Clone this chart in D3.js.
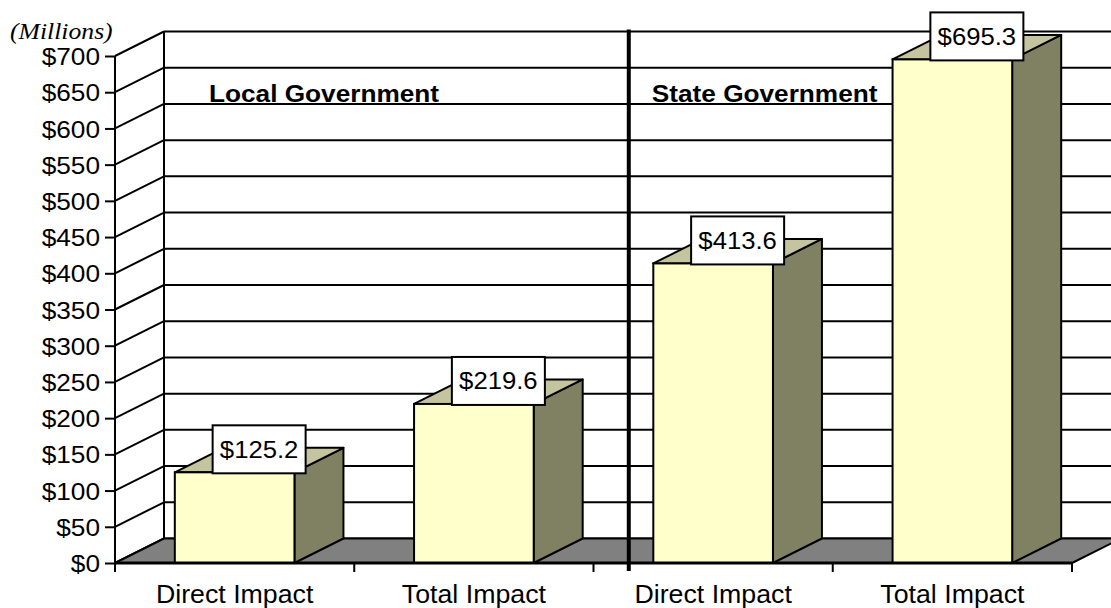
<!DOCTYPE html>
<html>
<head>
<meta charset="utf-8">
<script src="https://cdn.jsdelivr.net/npm/d3@7/dist/d3.min.js"></script>
<style>
  html, body { margin: 0; padding: 0; background: #fff; }
  svg { display: block; }
  text { fill: #000; }
</style>
</head>
<body>
<svg id="chart" width="1111" height="608"></svg>
<script>
// Fiscal impact, in millions of dollars
const categories = ["Direct Impact", "Total Impact", "Direct Impact", "Total Impact"];
const values = [125.2, 219.6, 413.6, 695.3];
const groupLabels = ["Local Government", "State Government"];
const groupStart = [0, 2];            // first category index of each group
const yTickValues = [0, 50, 100, 150, 200, 250, 300, 350, 400, 450, 500, 550, 600, 650, 700];
const unitLabel = "(Millions)";

const W = 1111, H = 608;
const sans = "'Liberation Sans', Arial, Helvetica, sans-serif";
const serif = "'Liberation Serif', 'Times New Roman', serif";
const svg = d3.select("#chart");

// plot frame (front plane) and 3-D depth offset
const plotLeft = 115, plotRight = 1072, plotBottom = 563, plotTop = 56;
const depthX = 49, depthY = -24.5;
const sx = 1.07; // horizontal text stretch

const x = d3.scaleBand().domain(d3.range(categories.length)).range([plotLeft, plotRight]).paddingInner(0).paddingOuter(0);
const y = d3.scaleLinear().domain([0, 700]).range([plotBottom, plotTop]);
const barW = x.bandwidth() * 0.5;

const stroke = "#000";
const lw = 2;

const g = svg.append("g");

// back wall gridlines
g.append("g").selectAll("line").data(yTickValues).join("line")
  .attr("x1", plotLeft + depthX).attr("x2", W + 20)
  .attr("y1", d => y(d) + depthY).attr("y2", d => y(d) + depthY)
  .attr("stroke", stroke).attr("stroke-width", lw);

// back wall left edge
g.append("line")
  .attr("x1", plotLeft + depthX).attr("x2", plotLeft + depthX)
  .attr("y1", y(700) + depthY).attr("y2", y(0) + depthY)
  .attr("stroke", stroke).attr("stroke-width", lw);

// side wall diagonals
g.append("g").selectAll("line").data(yTickValues).join("line")
  .attr("x1", plotLeft).attr("x2", plotLeft + depthX)
  .attr("y1", d => y(d)).attr("y2", d => y(d) + depthY)
  .attr("stroke", stroke).attr("stroke-width", lw);

// floor
g.append("path")
  .attr("d", `M${plotLeft},${y(0)} L${plotRight},${y(0)} L${plotRight + depthX},${y(0) + depthY} L${plotLeft + depthX},${y(0) + depthY} Z`)
  .attr("fill", "#808080").attr("stroke", stroke).attr("stroke-width", lw).attr("stroke-linejoin", "round");

// group divider
const divX = x(groupStart[1]) + depthX * 0.72;
g.append("line")
  .attr("x1", divX).attr("x2", divX)
  .attr("y1", y(700) + depthY - 2).attr("y2", y(0) + 8)
  .attr("stroke", stroke).attr("stroke-width", 4);

// group labels
groupLabels.forEach((lab, i) => {
  const gx = i === 0 ? x(groupStart[i]) + depthX + 45 : divX + 23;
  g.append("text")
    .attr("transform", `translate(${gx},${y(600) + depthY - 1.5}) scale(${sx},1)`)
    .style("font-family", sans)
    .attr("font-size", 24.5).attr("font-weight", "bold")
    .text(lab);
});

// bars
const bars = g.append("g").selectAll("g").data(values).join("g");
bars.each(function (v, i) {
  const b = d3.select(this);
  const x0 = x(i) + (x.bandwidth() - barW) / 2, x1 = x0 + barW;
  const yt = y(v), yb = y(0);
  // side face
  b.append("path")
    .attr("d", `M${x1},${yb} L${x1 + depthX},${yb + depthY} L${x1 + depthX},${yt + depthY} L${x1},${yt} Z`)
    .attr("fill", "#808062").attr("stroke", stroke).attr("stroke-width", lw).attr("stroke-linejoin", "round");
  // top face
  b.append("path")
    .attr("d", `M${x0},${yt} L${x0 + depthX},${yt + depthY} L${x1 + depthX},${yt + depthY} L${x1},${yt} Z`)
    .attr("fill", "#c4c49e").attr("stroke", stroke).attr("stroke-width", lw).attr("stroke-linejoin", "round");
  // front face
  b.append("rect")
    .attr("x", x0).attr("y", yt).attr("width", barW).attr("height", yb - yt)
    .attr("fill", "#ffffcc").attr("stroke", stroke).attr("stroke-width", lw);
});

// floor front edge
g.append("line")
  .attr("x1", plotLeft).attr("x2", plotRight).attr("y1", y(0)).attr("y2", y(0))
  .attr("stroke", stroke).attr("stroke-width", 3);

// value labels
bars.each(function (v, i) {
  const b = d3.select(this);
  const cx = x(i) + x.bandwidth() / 2 + depthX / 2;
  const boxW = 93, boxH = 48;
  const by = y(v) + 1 - boxH;
  b.append("rect")
    .attr("x", cx - boxW / 2).attr("y", by).attr("width", boxW).attr("height", boxH)
    .attr("fill", "#fff").attr("stroke", stroke).attr("stroke-width", lw);
  b.append("text")
    .attr("transform", `translate(${cx},${by + boxH / 2 + 8.5}) scale(${sx},1)`)
    .style("font-family", sans)
    .attr("text-anchor", "middle").attr("font-size", 24)
    .text("$" + v.toFixed(1));
});

// y axis
const yAxis = d3.axisLeft(y).tickValues(yTickValues).tickSize(10).tickPadding(5)
  .tickFormat(d => "$" + d);
const ya = svg.append("g").attr("transform", `translate(${plotLeft},0)`).call(yAxis);
ya.select(".domain").attr("stroke", stroke).attr("stroke-width", lw)
  .attr("d", `M0,${y(700)}V${y(0) + 9}`);
ya.selectAll(".tick line").attr("stroke", stroke).attr("stroke-width", lw);
ya.selectAll(".tick text")
  .style("font-family", sans)
  .attr("font-size", 24.5).attr("fill", "#000")
  .attr("dy", "0.35em")
  .attr("transform", `scale(${sx},1)`)
  .attr("x", -15 / sx);

// category ticks on the floor edge
const bounds = d3.range(categories.length + 1).map(i => i < categories.length ? x(i) : x(i - 1) + x.bandwidth());
svg.append("g").selectAll("line").data(bounds).join("line")
  .attr("x1", d => d).attr("x2", d => d)
  .attr("y1", y(0)).attr("y2", y(0) + 9)
  .attr("stroke", stroke).attr("stroke-width", lw);

// category labels
svg.append("g").selectAll("text").data(categories).join("text")
  .attr("transform", (d, i) => `translate(${x(i) + x.bandwidth() / 2},602.5) scale(${sx},1)`)
  .style("font-family", sans)
  .attr("text-anchor", "middle").attr("font-size", 25)
  .text(d => d);

// unit label
svg.append("text")
  .attr("transform", `translate(10,38.5) scale(${sx},1)`)
  .style("font-family", serif)
  .attr("font-style", "italic").attr("font-size", 24)
  .text(unitLabel);
</script>
</body>
</html>
